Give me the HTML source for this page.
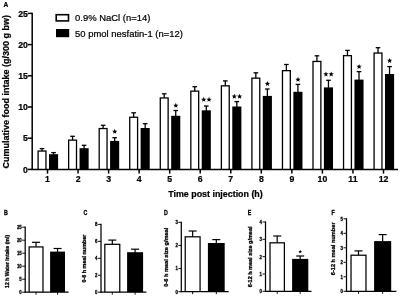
<!DOCTYPE html>
<html><head><meta charset="utf-8"><style>
html,body{margin:0;padding:0;background:#fff;}
body{width:400px;height:296px;overflow:hidden;}
svg{display:block;font-family:"Liberation Sans", sans-serif;will-change:transform;}
text{stroke:#000;stroke-width:0.22px;}
.ns{stroke-width:0.3px;}
</style></head><body>
<svg width="400" height="296" viewBox="0 0 400 296">
<rect width="400" height="296" fill="#fff"/>
<line x1="27.80" y1="169.40" x2="32.20" y2="169.40" stroke="#000" stroke-width="1.5"/>
<text x="27.80" y="172.55" font-size="8.7" font-weight="bold" text-anchor="end" fill="#000">0</text>
<line x1="27.80" y1="138.20" x2="32.20" y2="138.20" stroke="#000" stroke-width="1.5"/>
<text x="27.80" y="141.35" font-size="8.7" font-weight="bold" text-anchor="end" fill="#000">5</text>
<line x1="27.80" y1="107.00" x2="32.20" y2="107.00" stroke="#000" stroke-width="1.5"/>
<text x="27.80" y="110.15" font-size="8.7" font-weight="bold" text-anchor="end" fill="#000">10</text>
<line x1="27.80" y1="75.80" x2="32.20" y2="75.80" stroke="#000" stroke-width="1.5"/>
<text x="27.80" y="78.95" font-size="8.7" font-weight="bold" text-anchor="end" fill="#000">15</text>
<line x1="27.80" y1="44.60" x2="32.20" y2="44.60" stroke="#000" stroke-width="1.5"/>
<text x="27.80" y="47.75" font-size="8.7" font-weight="bold" text-anchor="end" fill="#000">20</text>
<line x1="27.80" y1="13.40" x2="32.20" y2="13.40" stroke="#000" stroke-width="1.5"/>
<text x="27.80" y="16.55" font-size="8.7" font-weight="bold" text-anchor="end" fill="#000">25</text>
<rect x="37.45" y="150.40" width="9.15" height="19.00" fill="#000"/>
<rect x="38.75" y="151.70" width="6.55" height="17.70" fill="#fff"/>
<rect x="49.00" y="154.20" width="9.10" height="15.20" fill="#000"/>
<line x1="42.03" y1="148.60" x2="42.03" y2="150.90" stroke="#000" stroke-width="1.3"/>
<line x1="39.73" y1="148.60" x2="44.33" y2="148.60" stroke="#000" stroke-width="1.3"/>
<line x1="53.55" y1="152.60" x2="53.55" y2="154.70" stroke="#000" stroke-width="1.3"/>
<line x1="51.25" y1="152.60" x2="55.85" y2="152.60" stroke="#000" stroke-width="1.3"/>
<line x1="47.50" y1="169.40" x2="47.50" y2="173.60" stroke="#000" stroke-width="1.5"/>
<text x="47.50" y="182.40" font-size="8.7" font-weight="bold" text-anchor="middle" fill="#000">1</text>
<rect x="68.00" y="139.50" width="9.15" height="29.90" fill="#000"/>
<rect x="69.30" y="140.80" width="6.55" height="28.60" fill="#fff"/>
<rect x="79.55" y="148.20" width="9.10" height="21.20" fill="#000"/>
<line x1="72.57" y1="136.30" x2="72.57" y2="140.00" stroke="#000" stroke-width="1.3"/>
<line x1="70.27" y1="136.30" x2="74.87" y2="136.30" stroke="#000" stroke-width="1.3"/>
<line x1="84.09" y1="145.30" x2="84.09" y2="148.70" stroke="#000" stroke-width="1.3"/>
<line x1="81.80" y1="145.30" x2="86.39" y2="145.30" stroke="#000" stroke-width="1.3"/>
<line x1="78.05" y1="169.40" x2="78.05" y2="173.60" stroke="#000" stroke-width="1.5"/>
<text x="78.05" y="182.40" font-size="8.7" font-weight="bold" text-anchor="middle" fill="#000">2</text>
<rect x="98.54" y="127.90" width="9.15" height="41.50" fill="#000"/>
<rect x="99.84" y="129.20" width="6.55" height="40.20" fill="#fff"/>
<rect x="110.09" y="140.90" width="9.10" height="28.50" fill="#000"/>
<line x1="103.12" y1="125.30" x2="103.12" y2="128.40" stroke="#000" stroke-width="1.3"/>
<line x1="100.82" y1="125.30" x2="105.42" y2="125.30" stroke="#000" stroke-width="1.3"/>
<line x1="114.64" y1="137.70" x2="114.64" y2="141.40" stroke="#000" stroke-width="1.3"/>
<line x1="112.34" y1="137.70" x2="116.94" y2="137.70" stroke="#000" stroke-width="1.3"/>
<line x1="108.59" y1="169.40" x2="108.59" y2="173.60" stroke="#000" stroke-width="1.5"/>
<text x="108.59" y="182.40" font-size="8.7" font-weight="bold" text-anchor="middle" fill="#000">3</text>
<polygon points="114.74,128.85 115.45,130.63 117.36,130.75 115.88,131.97 116.36,133.82 114.74,132.80 113.12,133.82 113.60,131.97 112.12,130.75 114.03,130.63" fill="#000"/>
<rect x="129.08" y="116.60" width="9.15" height="52.80" fill="#000"/>
<rect x="130.38" y="117.90" width="6.55" height="51.50" fill="#fff"/>
<rect x="140.63" y="128.00" width="9.10" height="41.40" fill="#000"/>
<line x1="133.66" y1="112.80" x2="133.66" y2="117.10" stroke="#000" stroke-width="1.3"/>
<line x1="131.36" y1="112.80" x2="135.96" y2="112.80" stroke="#000" stroke-width="1.3"/>
<line x1="145.19" y1="123.70" x2="145.19" y2="128.50" stroke="#000" stroke-width="1.3"/>
<line x1="142.88" y1="123.70" x2="147.49" y2="123.70" stroke="#000" stroke-width="1.3"/>
<line x1="139.13" y1="169.40" x2="139.13" y2="173.60" stroke="#000" stroke-width="1.5"/>
<text x="139.13" y="182.40" font-size="8.7" font-weight="bold" text-anchor="middle" fill="#000">4</text>
<rect x="159.63" y="97.30" width="9.15" height="72.10" fill="#000"/>
<rect x="160.93" y="98.60" width="6.55" height="70.80" fill="#fff"/>
<rect x="171.18" y="115.80" width="9.10" height="53.60" fill="#000"/>
<line x1="164.20" y1="93.80" x2="164.20" y2="97.80" stroke="#000" stroke-width="1.3"/>
<line x1="161.90" y1="93.80" x2="166.50" y2="93.80" stroke="#000" stroke-width="1.3"/>
<line x1="175.73" y1="110.50" x2="175.73" y2="116.30" stroke="#000" stroke-width="1.3"/>
<line x1="173.43" y1="110.50" x2="178.03" y2="110.50" stroke="#000" stroke-width="1.3"/>
<line x1="169.68" y1="169.40" x2="169.68" y2="173.60" stroke="#000" stroke-width="1.5"/>
<text x="169.68" y="182.40" font-size="8.7" font-weight="bold" text-anchor="middle" fill="#000">5</text>
<polygon points="175.83,102.85 176.54,104.63 178.45,104.75 176.97,105.97 177.45,107.82 175.83,106.80 174.21,107.82 174.69,105.97 173.21,104.75 175.12,104.63" fill="#000"/>
<rect x="190.18" y="90.50" width="9.15" height="78.90" fill="#000"/>
<rect x="191.48" y="91.80" width="6.55" height="77.60" fill="#fff"/>
<rect x="201.73" y="110.30" width="9.10" height="59.10" fill="#000"/>
<line x1="194.75" y1="86.70" x2="194.75" y2="91.00" stroke="#000" stroke-width="1.3"/>
<line x1="192.45" y1="86.70" x2="197.05" y2="86.70" stroke="#000" stroke-width="1.3"/>
<line x1="206.28" y1="106.00" x2="206.28" y2="110.80" stroke="#000" stroke-width="1.3"/>
<line x1="203.98" y1="106.00" x2="208.58" y2="106.00" stroke="#000" stroke-width="1.3"/>
<line x1="200.23" y1="169.40" x2="200.23" y2="173.60" stroke="#000" stroke-width="1.5"/>
<text x="200.23" y="182.40" font-size="8.7" font-weight="bold" text-anchor="middle" fill="#000">6</text>
<polygon points="203.73,96.85 204.43,98.63 206.34,98.75 204.87,99.97 205.34,101.82 203.73,100.80 202.11,101.82 202.58,99.97 201.11,98.75 203.02,98.63" fill="#000"/>
<polygon points="209.03,96.85 209.73,98.63 211.64,98.75 210.17,99.97 210.64,101.82 209.03,100.80 207.41,101.82 207.88,99.97 206.41,98.75 208.32,98.63" fill="#000"/>
<rect x="220.72" y="85.20" width="9.15" height="84.20" fill="#000"/>
<rect x="222.02" y="86.50" width="6.55" height="82.90" fill="#fff"/>
<rect x="232.27" y="106.50" width="9.10" height="62.90" fill="#000"/>
<line x1="225.30" y1="80.90" x2="225.30" y2="85.70" stroke="#000" stroke-width="1.3"/>
<line x1="223.00" y1="80.90" x2="227.60" y2="80.90" stroke="#000" stroke-width="1.3"/>
<line x1="236.82" y1="101.60" x2="236.82" y2="107.00" stroke="#000" stroke-width="1.3"/>
<line x1="234.52" y1="101.60" x2="239.12" y2="101.60" stroke="#000" stroke-width="1.3"/>
<line x1="230.77" y1="169.40" x2="230.77" y2="173.60" stroke="#000" stroke-width="1.5"/>
<text x="230.77" y="182.40" font-size="8.7" font-weight="bold" text-anchor="middle" fill="#000">7</text>
<polygon points="234.27,93.75 234.98,95.53 236.89,95.65 235.41,96.87 235.89,98.72 234.27,97.70 232.65,98.72 233.13,96.87 231.65,95.65 233.56,95.53" fill="#000"/>
<polygon points="239.57,93.75 240.28,95.53 242.19,95.65 240.71,96.87 241.19,98.72 239.57,97.70 237.95,98.72 238.43,96.87 236.95,95.65 238.86,95.53" fill="#000"/>
<rect x="251.26" y="77.50" width="9.15" height="91.90" fill="#000"/>
<rect x="252.56" y="78.80" width="6.55" height="90.60" fill="#fff"/>
<rect x="262.81" y="95.90" width="9.10" height="73.50" fill="#000"/>
<line x1="255.84" y1="72.80" x2="255.84" y2="78.00" stroke="#000" stroke-width="1.3"/>
<line x1="253.54" y1="72.80" x2="258.14" y2="72.80" stroke="#000" stroke-width="1.3"/>
<line x1="267.37" y1="89.00" x2="267.37" y2="96.40" stroke="#000" stroke-width="1.3"/>
<line x1="265.06" y1="89.00" x2="269.67" y2="89.00" stroke="#000" stroke-width="1.3"/>
<line x1="261.31" y1="169.40" x2="261.31" y2="173.60" stroke="#000" stroke-width="1.5"/>
<text x="261.31" y="182.40" font-size="8.7" font-weight="bold" text-anchor="middle" fill="#000">8</text>
<polygon points="267.47,81.05 268.17,82.83 270.08,82.95 268.61,84.17 269.08,86.02 267.47,85.00 265.85,86.02 266.32,84.17 264.85,82.95 266.76,82.83" fill="#000"/>
<rect x="281.81" y="70.00" width="9.15" height="99.40" fill="#000"/>
<rect x="283.11" y="71.30" width="6.55" height="98.10" fill="#fff"/>
<rect x="293.36" y="91.80" width="9.10" height="77.60" fill="#000"/>
<line x1="286.38" y1="64.50" x2="286.38" y2="70.50" stroke="#000" stroke-width="1.3"/>
<line x1="284.08" y1="64.50" x2="288.69" y2="64.50" stroke="#000" stroke-width="1.3"/>
<line x1="297.91" y1="84.40" x2="297.91" y2="92.30" stroke="#000" stroke-width="1.3"/>
<line x1="295.61" y1="84.40" x2="300.21" y2="84.40" stroke="#000" stroke-width="1.3"/>
<line x1="291.86" y1="169.40" x2="291.86" y2="173.60" stroke="#000" stroke-width="1.5"/>
<text x="291.86" y="182.40" font-size="8.7" font-weight="bold" text-anchor="middle" fill="#000">9</text>
<polygon points="298.01,76.85 298.72,78.63 300.63,78.75 299.15,79.97 299.63,81.82 298.01,80.80 296.39,81.82 296.87,79.97 295.39,78.75 297.30,78.63" fill="#000"/>
<rect x="312.36" y="60.80" width="9.15" height="108.60" fill="#000"/>
<rect x="313.66" y="62.10" width="6.55" height="107.30" fill="#fff"/>
<rect x="323.91" y="87.40" width="9.10" height="82.00" fill="#000"/>
<line x1="316.93" y1="55.80" x2="316.93" y2="61.30" stroke="#000" stroke-width="1.3"/>
<line x1="314.63" y1="55.80" x2="319.23" y2="55.80" stroke="#000" stroke-width="1.3"/>
<line x1="328.46" y1="80.30" x2="328.46" y2="87.90" stroke="#000" stroke-width="1.3"/>
<line x1="326.16" y1="80.30" x2="330.76" y2="80.30" stroke="#000" stroke-width="1.3"/>
<line x1="322.41" y1="169.40" x2="322.41" y2="173.60" stroke="#000" stroke-width="1.5"/>
<text x="322.41" y="182.40" font-size="8.7" font-weight="bold" text-anchor="middle" fill="#000">10</text>
<polygon points="325.91,71.45 326.61,73.23 328.52,73.35 327.05,74.57 327.52,76.42 325.91,75.40 324.29,76.42 324.76,74.57 323.29,73.35 325.20,73.23" fill="#000"/>
<polygon points="331.21,71.45 331.91,73.23 333.82,73.35 332.35,74.57 332.82,76.42 331.21,75.40 329.59,76.42 330.06,74.57 328.59,73.35 330.50,73.23" fill="#000"/>
<rect x="342.90" y="55.00" width="9.15" height="114.40" fill="#000"/>
<rect x="344.20" y="56.30" width="6.55" height="113.10" fill="#fff"/>
<rect x="354.45" y="79.60" width="9.10" height="89.80" fill="#000"/>
<line x1="347.48" y1="50.40" x2="347.48" y2="55.50" stroke="#000" stroke-width="1.3"/>
<line x1="345.18" y1="50.40" x2="349.78" y2="50.40" stroke="#000" stroke-width="1.3"/>
<line x1="359.00" y1="71.60" x2="359.00" y2="80.10" stroke="#000" stroke-width="1.3"/>
<line x1="356.70" y1="71.60" x2="361.30" y2="71.60" stroke="#000" stroke-width="1.3"/>
<line x1="352.95" y1="169.40" x2="352.95" y2="173.60" stroke="#000" stroke-width="1.5"/>
<text x="352.95" y="182.40" font-size="8.7" font-weight="bold" text-anchor="middle" fill="#000">11</text>
<polygon points="359.10,63.95 359.81,65.73 361.72,65.85 360.24,67.07 360.72,68.92 359.10,67.90 357.48,68.92 357.96,67.07 356.48,65.85 358.39,65.73" fill="#000"/>
<rect x="373.44" y="52.40" width="9.15" height="117.00" fill="#000"/>
<rect x="374.75" y="53.70" width="6.55" height="115.70" fill="#fff"/>
<rect x="385.00" y="74.00" width="9.10" height="95.40" fill="#000"/>
<line x1="378.02" y1="47.70" x2="378.02" y2="52.90" stroke="#000" stroke-width="1.3"/>
<line x1="375.72" y1="47.70" x2="380.32" y2="47.70" stroke="#000" stroke-width="1.3"/>
<line x1="389.55" y1="66.60" x2="389.55" y2="74.50" stroke="#000" stroke-width="1.3"/>
<line x1="387.25" y1="66.60" x2="391.85" y2="66.60" stroke="#000" stroke-width="1.3"/>
<line x1="383.50" y1="169.40" x2="383.50" y2="173.60" stroke="#000" stroke-width="1.5"/>
<text x="383.50" y="182.40" font-size="8.7" font-weight="bold" text-anchor="middle" fill="#000">12</text>
<polygon points="389.65,57.95 390.35,59.73 392.26,59.85 390.79,61.07 391.26,62.92 389.65,61.90 388.03,62.92 388.50,61.07 387.03,59.85 388.94,59.73" fill="#000"/>
<line x1="32.20" y1="12.70" x2="32.20" y2="170.10" stroke="#000" stroke-width="1.5"/>
<line x1="31.50" y1="169.40" x2="398.00" y2="169.40" stroke="#000" stroke-width="1.5"/>
<text x="215.50" y="197.20" font-size="8.9" font-weight="bold" text-anchor="middle" fill="#000">Time post injection (h)</text>
<text x="8.70" y="91.65" font-size="9.0" font-weight="bold" text-anchor="middle" transform="rotate(-90 8.70 91.65)" fill="#000">Cumulative food intake (g/300 g bw)</text>
<text x="3.40" y="6.80" font-size="6.6" font-weight="bold" text-anchor="start" fill="#000">A</text>
<rect x="55.40" y="13.90" width="13.90" height="7.80" fill="#000"/>
<rect x="57.00" y="15.50" width="10.70" height="4.60" fill="#fff"/>
<rect x="56.00" y="29.00" width="13.20" height="8.20" fill="#000"/>
<text x="75.10" y="21.15" font-size="9.45" font-weight="normal" text-anchor="start" fill="#000">0.9% NaCl (n=14)</text>
<text x="75.10" y="36.80" font-size="9.45" font-weight="normal" text-anchor="start" fill="#000">50 pmol nesfatin-1 (n=12)</text>
<text class="ns" x="0" y="0" font-size="6.6" font-weight="bold" text-anchor="start" transform="translate(3.90 215.30) rotate(0) scale(0.8 1.0)" fill="#000">B</text>
<line x1="22.20" y1="292.20" x2="25.20" y2="292.20" stroke="#111" stroke-width="1.0"/>
<text class="ns" x="0" y="0" font-size="5.3" font-weight="bold" text-anchor="end" transform="translate(21.70 294.10) rotate(0) scale(0.82 1.0)" fill="#000">0</text>
<line x1="22.20" y1="279.20" x2="25.20" y2="279.20" stroke="#111" stroke-width="1.0"/>
<text class="ns" x="0" y="0" font-size="5.3" font-weight="bold" text-anchor="end" transform="translate(21.70 281.10) rotate(0) scale(0.82 1.0)" fill="#000">5</text>
<line x1="22.20" y1="266.20" x2="25.20" y2="266.20" stroke="#111" stroke-width="1.0"/>
<text class="ns" x="0" y="0" font-size="5.3" font-weight="bold" text-anchor="end" transform="translate(21.70 268.10) rotate(0) scale(0.82 1.0)" fill="#000">10</text>
<line x1="22.20" y1="253.20" x2="25.20" y2="253.20" stroke="#111" stroke-width="1.0"/>
<text class="ns" x="0" y="0" font-size="5.3" font-weight="bold" text-anchor="end" transform="translate(21.70 255.10) rotate(0) scale(0.82 1.0)" fill="#000">15</text>
<line x1="22.20" y1="240.20" x2="25.20" y2="240.20" stroke="#111" stroke-width="1.0"/>
<text class="ns" x="0" y="0" font-size="5.3" font-weight="bold" text-anchor="end" transform="translate(21.70 242.10) rotate(0) scale(0.82 1.0)" fill="#000">20</text>
<line x1="22.20" y1="227.20" x2="25.20" y2="227.20" stroke="#111" stroke-width="1.0"/>
<text class="ns" x="0" y="0" font-size="5.3" font-weight="bold" text-anchor="end" transform="translate(21.70 229.10) rotate(0) scale(0.82 1.0)" fill="#000">25</text>
<rect x="28.50" y="246.30" width="15.10" height="45.90" fill="#000"/>
<rect x="29.75" y="247.55" width="12.60" height="44.65" fill="#fff"/>
<rect x="50.10" y="251.60" width="14.90" height="40.60" fill="#000"/>
<line x1="36.05" y1="242.30" x2="36.05" y2="246.80" stroke="#000" stroke-width="1.2"/>
<line x1="32.05" y1="242.30" x2="40.05" y2="242.30" stroke="#000" stroke-width="1.2"/>
<line x1="57.55" y1="248.50" x2="57.55" y2="252.10" stroke="#000" stroke-width="1.2"/>
<line x1="53.55" y1="248.50" x2="61.55" y2="248.50" stroke="#000" stroke-width="1.2"/>
<line x1="36.05" y1="292.20" x2="36.05" y2="294.70" stroke="#111" stroke-width="1.0"/>
<line x1="57.55" y1="292.20" x2="57.55" y2="294.70" stroke="#111" stroke-width="1.0"/>
<line x1="25.20" y1="226.60" x2="25.20" y2="292.80" stroke="#000" stroke-width="1.25"/>
<line x1="24.60" y1="292.20" x2="68.60" y2="292.20" stroke="#000" stroke-width="1.3"/>
<text class="ns" x="0" y="0" font-size="5.4" font-weight="bold" text-anchor="middle" transform="translate(8.60 261.40) rotate(-90) scale(0.955 1.0)" fill="#000">12 h Water intake (ml)</text>
<text class="ns" x="0" y="0" font-size="6.6" font-weight="bold" text-anchor="start" transform="translate(83.50 215.30) rotate(0) scale(0.8 1.0)" fill="#000">C</text>
<line x1="98.00" y1="292.20" x2="101.00" y2="292.20" stroke="#111" stroke-width="1.0"/>
<text class="ns" x="0" y="0" font-size="5.3" font-weight="bold" text-anchor="end" transform="translate(97.50 294.10) rotate(0) scale(0.82 1.0)" fill="#000">0</text>
<line x1="98.00" y1="275.25" x2="101.00" y2="275.25" stroke="#111" stroke-width="1.0"/>
<text class="ns" x="0" y="0" font-size="5.3" font-weight="bold" text-anchor="end" transform="translate(97.50 277.15) rotate(0) scale(0.82 1.0)" fill="#000">2</text>
<line x1="98.00" y1="258.30" x2="101.00" y2="258.30" stroke="#111" stroke-width="1.0"/>
<text class="ns" x="0" y="0" font-size="5.3" font-weight="bold" text-anchor="end" transform="translate(97.50 260.20) rotate(0) scale(0.82 1.0)" fill="#000">4</text>
<line x1="98.00" y1="241.35" x2="101.00" y2="241.35" stroke="#111" stroke-width="1.0"/>
<text class="ns" x="0" y="0" font-size="5.3" font-weight="bold" text-anchor="end" transform="translate(97.50 243.25) rotate(0) scale(0.82 1.0)" fill="#000">6</text>
<line x1="98.00" y1="224.40" x2="101.00" y2="224.40" stroke="#111" stroke-width="1.0"/>
<text class="ns" x="0" y="0" font-size="5.3" font-weight="bold" text-anchor="end" transform="translate(97.50 226.30) rotate(0) scale(0.82 1.0)" fill="#000">8</text>
<rect x="104.20" y="243.70" width="16.20" height="48.50" fill="#000"/>
<rect x="105.45" y="244.95" width="13.70" height="47.25" fill="#fff"/>
<rect x="127.10" y="252.20" width="16.00" height="40.00" fill="#000"/>
<line x1="112.30" y1="240.10" x2="112.30" y2="244.20" stroke="#000" stroke-width="1.2"/>
<line x1="108.30" y1="240.10" x2="116.30" y2="240.10" stroke="#000" stroke-width="1.2"/>
<line x1="135.10" y1="249.20" x2="135.10" y2="252.70" stroke="#000" stroke-width="1.2"/>
<line x1="131.10" y1="249.20" x2="139.10" y2="249.20" stroke="#000" stroke-width="1.2"/>
<line x1="112.30" y1="292.20" x2="112.30" y2="294.70" stroke="#111" stroke-width="1.0"/>
<line x1="135.10" y1="292.20" x2="135.10" y2="294.70" stroke="#111" stroke-width="1.0"/>
<line x1="101.00" y1="223.80" x2="101.00" y2="292.80" stroke="#000" stroke-width="1.25"/>
<line x1="100.40" y1="292.20" x2="146.40" y2="292.20" stroke="#000" stroke-width="1.3"/>
<text class="ns" x="0" y="0" font-size="5.45" font-weight="bold" text-anchor="middle" transform="translate(86.40 258.60) rotate(-90) scale(1.0 1.0)" fill="#000">0-6 h meal number</text>
<text class="ns" x="0" y="0" font-size="6.6" font-weight="bold" text-anchor="start" transform="translate(164.10 215.30) rotate(0) scale(0.8 1.0)" fill="#000">D</text>
<line x1="178.30" y1="291.70" x2="181.30" y2="291.70" stroke="#111" stroke-width="1.0"/>
<text class="ns" x="0" y="0" font-size="5.3" font-weight="bold" text-anchor="end" transform="translate(177.80 293.60) rotate(0) scale(0.82 1.0)" fill="#000">0</text>
<line x1="178.30" y1="268.57" x2="181.30" y2="268.57" stroke="#111" stroke-width="1.0"/>
<text class="ns" x="0" y="0" font-size="5.3" font-weight="bold" text-anchor="end" transform="translate(177.80 270.47) rotate(0) scale(0.82 1.0)" fill="#000">1</text>
<line x1="178.30" y1="245.43" x2="181.30" y2="245.43" stroke="#111" stroke-width="1.0"/>
<text class="ns" x="0" y="0" font-size="5.3" font-weight="bold" text-anchor="end" transform="translate(177.80 247.33) rotate(0) scale(0.82 1.0)" fill="#000">2</text>
<line x1="178.30" y1="222.30" x2="181.30" y2="222.30" stroke="#111" stroke-width="1.0"/>
<text class="ns" x="0" y="0" font-size="5.3" font-weight="bold" text-anchor="end" transform="translate(177.80 224.20) rotate(0) scale(0.82 1.0)" fill="#000">3</text>
<rect x="184.60" y="236.20" width="16.10" height="55.50" fill="#000"/>
<rect x="185.85" y="237.45" width="13.60" height="54.25" fill="#fff"/>
<rect x="207.90" y="243.00" width="16.80" height="48.70" fill="#000"/>
<line x1="192.65" y1="231.00" x2="192.65" y2="236.70" stroke="#000" stroke-width="1.2"/>
<line x1="188.65" y1="231.00" x2="196.65" y2="231.00" stroke="#000" stroke-width="1.2"/>
<line x1="216.30" y1="239.60" x2="216.30" y2="243.50" stroke="#000" stroke-width="1.2"/>
<line x1="212.30" y1="239.60" x2="220.30" y2="239.60" stroke="#000" stroke-width="1.2"/>
<line x1="192.65" y1="291.70" x2="192.65" y2="294.20" stroke="#111" stroke-width="1.0"/>
<line x1="216.30" y1="291.70" x2="216.30" y2="294.20" stroke="#111" stroke-width="1.0"/>
<line x1="181.30" y1="221.70" x2="181.30" y2="292.30" stroke="#000" stroke-width="1.25"/>
<line x1="180.70" y1="291.70" x2="228.70" y2="291.70" stroke="#000" stroke-width="1.3"/>
<text class="ns" x="0" y="0" font-size="5.62" font-weight="bold" text-anchor="middle" transform="translate(167.70 257.20) rotate(-90) scale(1.0 1.0)" fill="#000">0-6 h meal size g/meal</text>
<text class="ns" x="0" y="0" font-size="6.6" font-weight="bold" text-anchor="start" transform="translate(247.80 215.30) rotate(0) scale(0.8 1.0)" fill="#000">E</text>
<line x1="262.50" y1="291.30" x2="265.50" y2="291.30" stroke="#111" stroke-width="1.0"/>
<text class="ns" x="0" y="0" font-size="5.3" font-weight="bold" text-anchor="end" transform="translate(262.00 293.20) rotate(0) scale(0.82 1.0)" fill="#000">0</text>
<line x1="262.50" y1="273.98" x2="265.50" y2="273.98" stroke="#111" stroke-width="1.0"/>
<text class="ns" x="0" y="0" font-size="5.3" font-weight="bold" text-anchor="end" transform="translate(262.00 275.88) rotate(0) scale(0.82 1.0)" fill="#000">1</text>
<line x1="262.50" y1="256.65" x2="265.50" y2="256.65" stroke="#111" stroke-width="1.0"/>
<text class="ns" x="0" y="0" font-size="5.3" font-weight="bold" text-anchor="end" transform="translate(262.00 258.55) rotate(0) scale(0.82 1.0)" fill="#000">2</text>
<line x1="262.50" y1="239.32" x2="265.50" y2="239.32" stroke="#111" stroke-width="1.0"/>
<text class="ns" x="0" y="0" font-size="5.3" font-weight="bold" text-anchor="end" transform="translate(262.00 241.22) rotate(0) scale(0.82 1.0)" fill="#000">3</text>
<line x1="262.50" y1="222.00" x2="265.50" y2="222.00" stroke="#111" stroke-width="1.0"/>
<text class="ns" x="0" y="0" font-size="5.3" font-weight="bold" text-anchor="end" transform="translate(262.00 223.90) rotate(0) scale(0.82 1.0)" fill="#000">4</text>
<rect x="269.40" y="242.20" width="15.60" height="49.10" fill="#000"/>
<rect x="270.65" y="243.45" width="13.10" height="47.85" fill="#fff"/>
<rect x="292.10" y="258.90" width="16.20" height="32.40" fill="#000"/>
<line x1="277.20" y1="236.00" x2="277.20" y2="242.70" stroke="#000" stroke-width="1.2"/>
<line x1="273.20" y1="236.00" x2="281.20" y2="236.00" stroke="#000" stroke-width="1.2"/>
<line x1="300.20" y1="256.00" x2="300.20" y2="259.40" stroke="#000" stroke-width="1.2"/>
<line x1="296.20" y1="256.00" x2="304.20" y2="256.00" stroke="#000" stroke-width="1.2"/>
<line x1="277.20" y1="291.30" x2="277.20" y2="293.80" stroke="#111" stroke-width="1.0"/>
<line x1="300.20" y1="291.30" x2="300.20" y2="293.80" stroke="#111" stroke-width="1.0"/>
<line x1="265.50" y1="221.40" x2="265.50" y2="291.90" stroke="#000" stroke-width="1.25"/>
<line x1="264.90" y1="291.30" x2="311.50" y2="291.30" stroke="#000" stroke-width="1.3"/>
<text class="ns" x="0" y="0" font-size="5.5" font-weight="bold" text-anchor="middle" transform="translate(252.10 256.90) rotate(-90) scale(1.0 1.0)" fill="#000">6-12 h meal size g/meal</text>
<polygon points="300.20,249.80 300.70,251.01 302.01,251.11 301.01,251.96 301.32,253.24 300.20,252.55 299.08,253.24 299.39,251.96 298.39,251.11 299.70,251.01" fill="#000"/>
<text class="ns" x="0" y="0" font-size="6.6" font-weight="bold" text-anchor="start" transform="translate(331.50 215.30) rotate(0) scale(0.8 1.0)" fill="#000">F</text>
<line x1="343.50" y1="291.30" x2="346.50" y2="291.30" stroke="#111" stroke-width="1.0"/>
<text class="ns" x="0" y="0" font-size="5.3" font-weight="bold" text-anchor="end" transform="translate(343.00 293.20) rotate(0) scale(0.82 1.0)" fill="#000">0</text>
<line x1="343.50" y1="276.80" x2="346.50" y2="276.80" stroke="#111" stroke-width="1.0"/>
<text class="ns" x="0" y="0" font-size="5.3" font-weight="bold" text-anchor="end" transform="translate(343.00 278.70) rotate(0) scale(0.82 1.0)" fill="#000">1</text>
<line x1="343.50" y1="262.30" x2="346.50" y2="262.30" stroke="#111" stroke-width="1.0"/>
<text class="ns" x="0" y="0" font-size="5.3" font-weight="bold" text-anchor="end" transform="translate(343.00 264.20) rotate(0) scale(0.82 1.0)" fill="#000">2</text>
<line x1="343.50" y1="247.80" x2="346.50" y2="247.80" stroke="#111" stroke-width="1.0"/>
<text class="ns" x="0" y="0" font-size="5.3" font-weight="bold" text-anchor="end" transform="translate(343.00 249.70) rotate(0) scale(0.82 1.0)" fill="#000">3</text>
<line x1="343.50" y1="233.30" x2="346.50" y2="233.30" stroke="#111" stroke-width="1.0"/>
<text class="ns" x="0" y="0" font-size="5.3" font-weight="bold" text-anchor="end" transform="translate(343.00 235.20) rotate(0) scale(0.82 1.0)" fill="#000">4</text>
<line x1="343.50" y1="218.80" x2="346.50" y2="218.80" stroke="#111" stroke-width="1.0"/>
<text class="ns" x="0" y="0" font-size="5.3" font-weight="bold" text-anchor="end" transform="translate(343.00 220.70) rotate(0) scale(0.82 1.0)" fill="#000">5</text>
<rect x="350.40" y="254.60" width="16.20" height="36.70" fill="#000"/>
<rect x="351.65" y="255.85" width="13.70" height="35.45" fill="#fff"/>
<rect x="374.10" y="241.10" width="17.10" height="50.20" fill="#000"/>
<line x1="358.50" y1="250.90" x2="358.50" y2="255.10" stroke="#000" stroke-width="1.2"/>
<line x1="354.50" y1="250.90" x2="362.50" y2="250.90" stroke="#000" stroke-width="1.2"/>
<line x1="382.65" y1="234.60" x2="382.65" y2="241.60" stroke="#000" stroke-width="1.2"/>
<line x1="378.65" y1="234.60" x2="386.65" y2="234.60" stroke="#000" stroke-width="1.2"/>
<line x1="358.50" y1="291.30" x2="358.50" y2="293.80" stroke="#111" stroke-width="1.0"/>
<line x1="382.65" y1="291.30" x2="382.65" y2="293.80" stroke="#111" stroke-width="1.0"/>
<line x1="346.50" y1="218.20" x2="346.50" y2="291.90" stroke="#000" stroke-width="1.25"/>
<line x1="345.90" y1="291.30" x2="396.40" y2="291.30" stroke="#000" stroke-width="1.3"/>
<text class="ns" x="0" y="0" font-size="5.64" font-weight="bold" text-anchor="middle" transform="translate(334.90 248.80) rotate(-90) scale(1.0 1.0)" fill="#000">6-12 h meal number</text>
</svg>
</body></html>
